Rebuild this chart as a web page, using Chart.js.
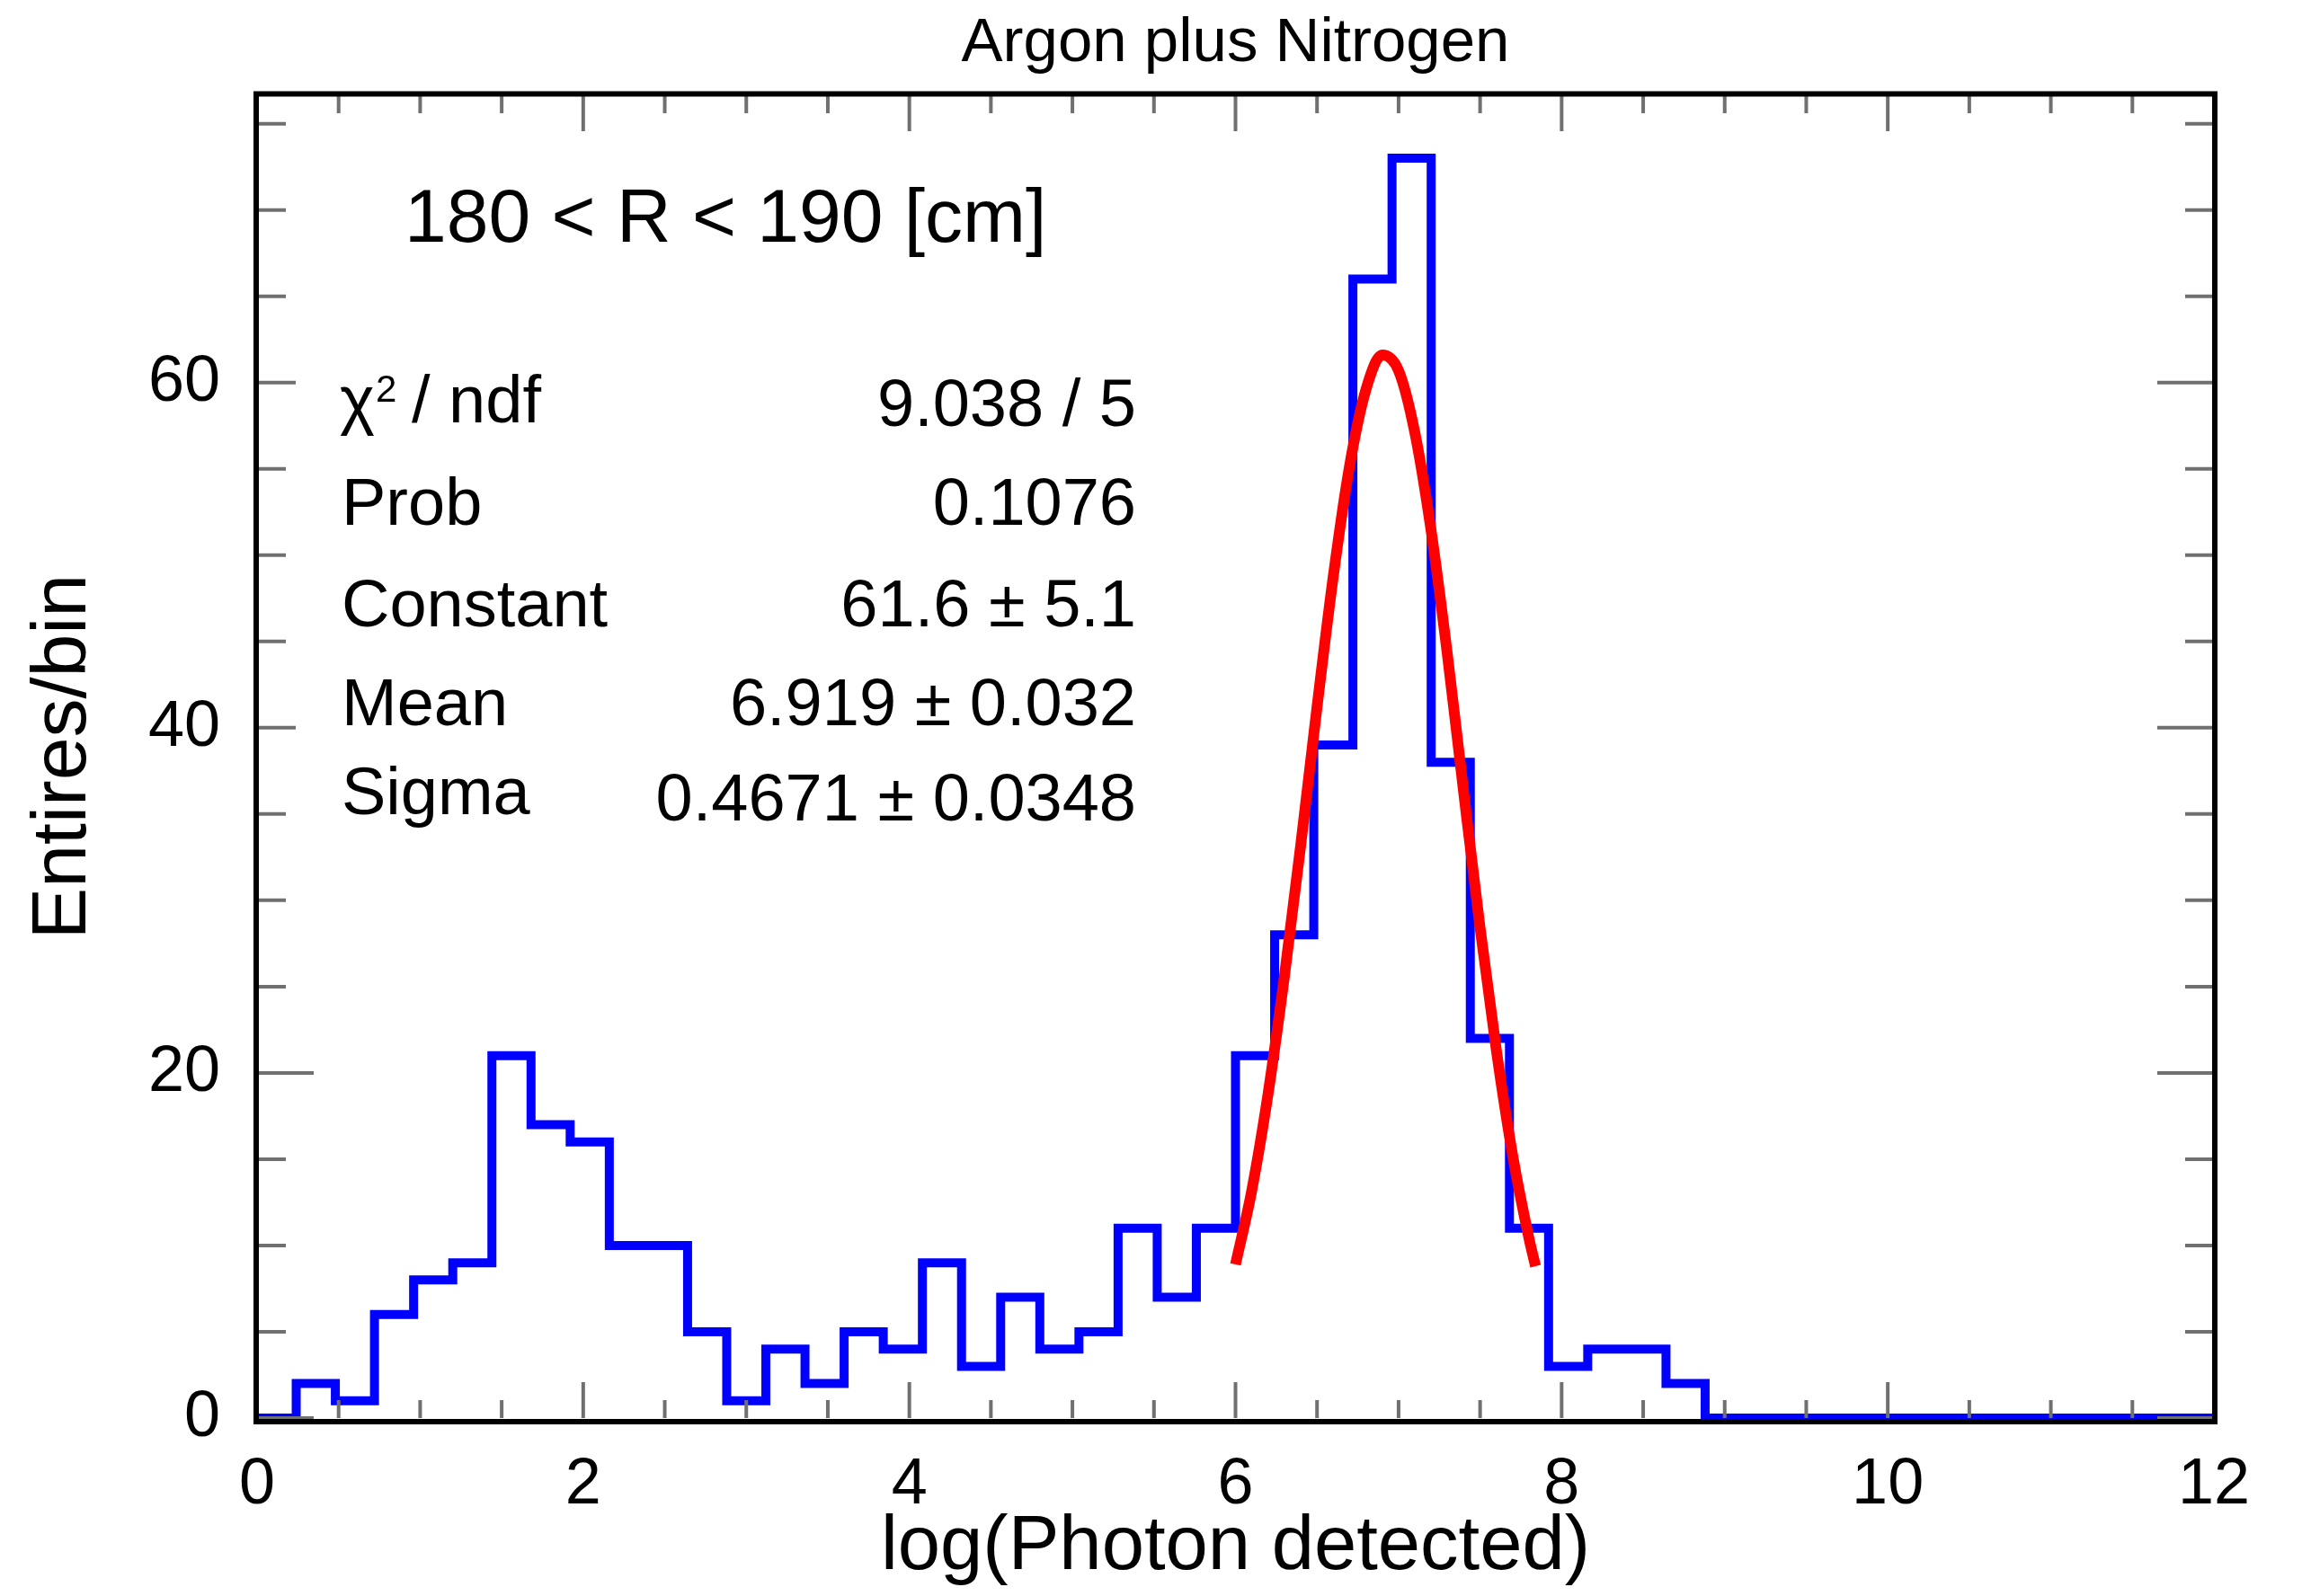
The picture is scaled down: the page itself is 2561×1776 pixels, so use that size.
<!DOCTYPE html>
<html>
<head>
<meta charset="utf-8">
<script src="https://cdn.jsdelivr.net/npm/chart.js@4.4.0/dist/chart.umd.min.js"></script>
<style>
  html, body { margin: 0; padding: 0; background: #fff; }
  canvas { display: block; }
</style>
</head>
<body>
<canvas id="c" width="2561" height="1776"></canvas>
<script>
// histogram, 50 bins over [0, 12]
const binLow = 0;
const binWidth = 0.24;
const counts = [0, 2, 1, 6, 8, 9, 21, 17, 16, 10,
  10, 5, 1, 4, 2, 5, 4, 9, 3, 7,
  4, 5, 11, 7, 11, 21, 28, 39, 66, 73,
  38, 22, 11, 3, 4, 4, 2, 0, 0, 0,
  0, 0, 0, 0, 0, 0, 0, 0, 0, 0];

// gaussian fit
const fitX = [6.0, 6.1, 6.2, 6.3, 6.4, 6.5, 6.6, 6.7, 6.8, 6.9, 7.0, 7.1, 7.2, 7.3, 7.4, 7.5, 7.6, 7.7, 7.8, 7.84];
const fitY = [8.9, 13.2, 18.8, 25.6, 33.2, 41.2, 48.8, 55.2, 59.6, 61.6, 60.7, 57.1, 51.4, 44.2, 36.2, 28.4, 21.3, 15.2, 10.4, 8.8];

const xTicks = [0, 2, 4, 6, 8, 10, 12];
const yTicks = [0, 20, 40, 60];
const yMax = 76.65;

const plotTitle = 'Argon plus Nitrogen';
const rangeLabel = '180 < R < 190 [cm]';
const statsLabels = ['χ2 / ndf', 'Prob', 'Constant', 'Mean', 'Sigma'];
const statsValues = ['9.038 / 5', '0.1076', '61.6 ± 5.1', '6.919 ± 0.032', '0.4671 ± 0.0348'];

const FONT = '"Liberation Sans", Arial, Helvetica, sans-serif';
Chart.defaults.font.family = FONT;
Chart.defaults.color = '#000';

const histPoints = counts.map((c, i) => ({x: binLow + i * binWidth, y: c}));
histPoints.push({x: binLow + counts.length * binWidth, y: counts[counts.length - 1]});
const fitPoints = fitX.map((x, i) => ({x, y: fitY[i]}));

// ROOT style: ticks inside the frame, stats box, frame on top
const rootDecor = {
  id: 'rootDecor',
  afterDatasetsDraw(chart) {
    const {ctx, chartArea: a, scales: {x, y}} = chart;
    ctx.save();
    ctx.strokeStyle = '#707070';
    ctx.lineWidth = 4;
    ctx.beginPath();
    for (let v = 0; v <= 12.001; v += 0.5) {
      const px = x.getPixelForValue(v);
      const len = xTicks.includes(v) ? 40 : 20;
      ctx.moveTo(px, a.bottom); ctx.lineTo(px, a.bottom - len);
      ctx.moveTo(px, a.top); ctx.lineTo(px, a.top + len);
    }
    for (let v = 0; v <= yMax; v += 5) {
      const py = y.getPixelForValue(v);
      const len = yTicks.includes(v) ? 63 : 32;
      ctx.moveTo(a.left, py); ctx.lineTo(a.left + len, py);
      ctx.moveTo(a.right, py); ctx.lineTo(a.right - len, py);
    }
    ctx.stroke();

    // stats pave (white fill hides part of the left ticks)
    ctx.fillStyle = '#fff';
    ctx.fillRect(329, 390, 960, 570);

    ctx.fillStyle = '#000';
    ctx.textBaseline = 'alphabetic';
    ctx.font = '69px ' + FONT;
    ctx.textAlign = 'center';
    ctx.fillText(plotTitle, (a.left + a.right) / 2, 68);

    ctx.font = '84px ' + FONT;
    ctx.textAlign = 'left';
    ctx.fillText(rangeLabel, 450, 269);

    const labelBase = [470, 584, 697, 807, 906];
    const valueBase = [474, 584, 697, 807, 913];
    statsLabels.forEach((t, i) => {
      ctx.font = '74px ' + FONT;
      ctx.textAlign = 'left';
      if (i === 0) {
        // chi with a raised 2
        ctx.fillText('χ', 378, labelBase[i]);
        ctx.font = '42px ' + FONT;
        ctx.fillText('2', 418, 447);
        ctx.font = '74px ' + FONT;
        ctx.fillText('/ ndf', 458, labelBase[i]);
      } else {
        ctx.fillText(t, 380, labelBase[i]);
      }
      ctx.textAlign = 'right';
      ctx.fillText(statsValues[i], 1264, valueBase[i]);
    });

    ctx.strokeStyle = '#000';
    ctx.lineWidth = 6;
    ctx.strokeRect(a.left - 1, a.top - 1.5, a.right - a.left + 2, a.bottom - a.top + 5.5);
    ctx.restore();
  }
};

new Chart(document.getElementById('c'), {
  type: 'line',
  data: {
    datasets: [
      {
        data: fitPoints,
        borderColor: '#ff0000',
        borderWidth: 12,
        pointRadius: 0,
        cubicInterpolationMode: 'monotone',
        fill: false,
        order: 0
      },
      {
        data: histPoints,
        borderColor: '#0000ff',
        borderWidth: 10,
        pointRadius: 0,
        stepped: true,
        fill: false,
        clip: 8,
        order: 1
      }
    ]
  },
  options: {
    responsive: false,
    animation: false,
    devicePixelRatio: 1,
    layout: { padding: { top: 106, right: 98, left: 0, bottom: 0 } },
    plugins: { legend: { display: false }, tooltip: { enabled: false }, title: { display: false } },
    scales: {
      x: {
        type: 'linear', min: 0, max: 12,
        afterBuildTicks: s => { s.ticks = xTicks.map(v => ({value: v})); },
        afterFit: s => { s.height = 198; },
        grid: { display: false, drawTicks: false },
        border: { display: false },
        ticks: { font: { size: 72 }, padding: 32, maxRotation: 0, autoSkip: false, color: '#000' },
        title: { display: true, text: 'log(Photon detected)', font: { size: 85 }, color: '#000', padding: { top: 0, bottom: 2 } }
      },
      y: {
        type: 'linear', min: 0, max: yMax,
        afterBuildTicks: s => { s.ticks = yTicks.map(v => ({value: v})); },
        afterFit: s => { s.width = 286; },
        grid: { display: false, drawTicks: false },
        border: { display: false },
        ticks: { font: { size: 72 }, padding: 41, color: '#000' },
        title: { display: true, text: 'Entires/bin', font: { size: 86 }, color: '#000', padding: { top: 20, bottom: 0 } }
      }
    }
  },
  plugins: [rootDecor]
});
</script>
</body>
</html>
